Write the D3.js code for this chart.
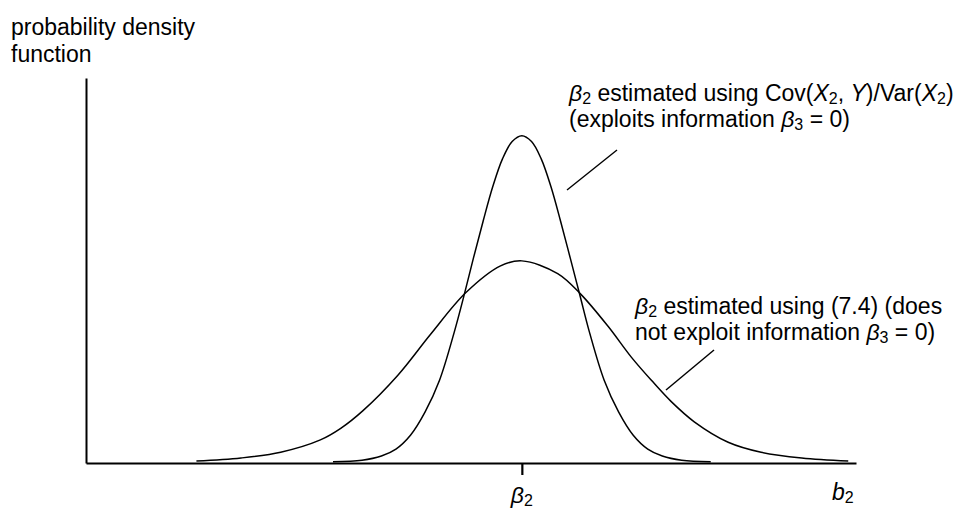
<!DOCTYPE html>
<html>
<head>
<meta charset="utf-8">
<script src="https://cdn.jsdelivr.net/npm/d3@7"></script>
<style>
  html, body { margin: 0; padding: 0; background: #fff; }
  svg { display: block; }
  text { font-family: "Liberation Sans", Arial, Helvetica, sans-serif; fill: #000; }
</style>
</head>
<body>
<svg id="chart" width="971" height="514"></svg>
<script>
// Sampling distributions of b2 (β2 at 0 on the horizontal scale)
const narrowX = [-1.95, -1.65, -1.45, -1.3, -1.15, -1.0, -0.85, -0.7, -0.6, -0.5, -0.4, -0.3, -0.2, -0.1, 0,
                 0.1, 0.2, 0.3, 0.4, 0.5, 0.6, 0.7, 0.85, 1.0, 1.15, 1.3, 1.45, 1.65, 1.95];
const narrowY = [0.003, 0.007, 0.018, 0.036, 0.072, 0.132, 0.215, 0.338, 0.432, 0.532, 0.628, 0.718, 0.79, 0.835, 0.85,
                 0.835, 0.79, 0.718, 0.628, 0.532, 0.435, 0.338, 0.215, 0.132, 0.072, 0.036, 0.018, 0.007, 0.003];

const wideX = [-3.36, -2.9, -2.49, -2.08, -1.87, -1.64, -1.28, -0.94, -0.58, -0.22, 0,
               0.37, 0.61, 0.89, 1.13, 1.34, 1.54, 1.78, 2.13, 2.47, 2.89, 3.37];
const wideY = [0.005, 0.013, 0.028, 0.06, 0.09, 0.136, 0.228, 0.335, 0.442, 0.512, 0.525,
               0.492, 0.438, 0.355, 0.275, 0.214, 0.16, 0.107, 0.054, 0.028, 0.013, 0.005];

// Tick on the horizontal axis: the true value β2
const tickValues = [0];

const svg = d3.select("#chart");

const x = d3.scaleLinear().domain([-4.5, 3.45]).range([86, 856]);
const y = d3.scaleLinear().domain([0, 1]).range([463, 78]);

// Axes
svg.append("g")
  .attr("transform", `translate(0,${y(0)})`)
  .call(d3.axisBottom(x).tickValues(tickValues).tickSize(12).tickSizeOuter(0).tickFormat(""))
  .call(g => g.selectAll("path, line").attr("stroke", "#000").attr("stroke-width", 2.2));

svg.append("g")
  .attr("transform", `translate(${x.range()[0]},0)`)
  .call(d3.axisLeft(y).tickValues([]).tickSizeOuter(0))
  .call(g => g.selectAll("path").attr("stroke", "#000").attr("stroke-width", 2));

// Density curves
const line = d3.line()
  .x(d => x(d[0]))
  .y(d => y(d[1]))
  .curve(d3.curveCatmullRom.alpha(0.5));

svg.append("path")
  .datum(narrowX.map((v, i) => [v, narrowY[i]]))
  .attr("d", line)
  .attr("fill", "none")
  .attr("stroke", "#000")
  .attr("stroke-width", 1.5);

svg.append("path")
  .datum(wideX.map((v, i) => [v, wideY[i]]))
  .attr("d", line)
  .attr("fill", "none")
  .attr("stroke", "#000")
  .attr("stroke-width", 1.5);

// Text helpers: rich lines built from [text, style] parts
const FS = 23, SUB = 16;
function richText(xPos, yPos, parts, anchor) {
  const t = svg.append("text")
    .attr("x", xPos).attr("y", yPos)
    .attr("font-size", FS)
    .attr("text-anchor", anchor || "start");
  parts.forEach(p => {
    const s = t.append("tspan").text(p.t);
    if (p.i) s.attr("font-style", "italic");
    if (p.sub) s.attr("font-size", SUB).attr("dy", 3);
    if (p.after) s.attr("dy", -3);
  });
  return t;
}

// Vertical axis title
svg.append("text").attr("x", 11).attr("y", 35).attr("font-size", FS).text("probability density");
svg.append("text").attr("x", 11).attr("y", 62).attr("font-size", FS).text("function");

// Horizontal axis labels
richText(x(0), 503, [{t: "β", i: true}, {t: "2", sub: true}], "middle");
richText(832, 500, [{t: "b", i: true}, {t: "2", sub: true}]);

// Annotation for the narrow curve
richText(569, 101, [
  {t: "β", i: true}, {t: "2", sub: true}, {t: " estimated using Cov(", after: true},
  {t: "X", i: true}, {t: "2", sub: true}, {t: ",  ", after: true}, {t: "Y", i: true},
  {t: ")/Var(" }, {t: "X", i: true}, {t: "2", sub: true}, {t: ")", after: true}
]);
richText(569, 127, [
  {t: "(exploits information "}, {t: "β", i: true}, {t: "3", sub: true}, {t: " = 0)", after: true}
]);

// Annotation for the wide curve
richText(635, 314, [
  {t: "β", i: true}, {t: "2", sub: true}, {t: " estimated using (7.4) (does", after: true}
]);
richText(635, 340, [
  {t: "not exploit information "}, {t: "β", i: true}, {t: "3", sub: true}, {t: " = 0)", after: true}
]);

// Leader lines from the annotations to the curves
const leaders = [
  [[617, 150], [567, 190]],
  [[714, 350], [666, 390]]
];
svg.selectAll("line.leader")
  .data(leaders)
  .enter().append("line")
  .attr("class", "leader")
  .attr("x1", d => d[0][0]).attr("y1", d => d[0][1])
  .attr("x2", d => d[1][0]).attr("y2", d => d[1][1])
  .attr("stroke", "#000")
  .attr("stroke-width", 1.5);
</script>
</body>
</html>
